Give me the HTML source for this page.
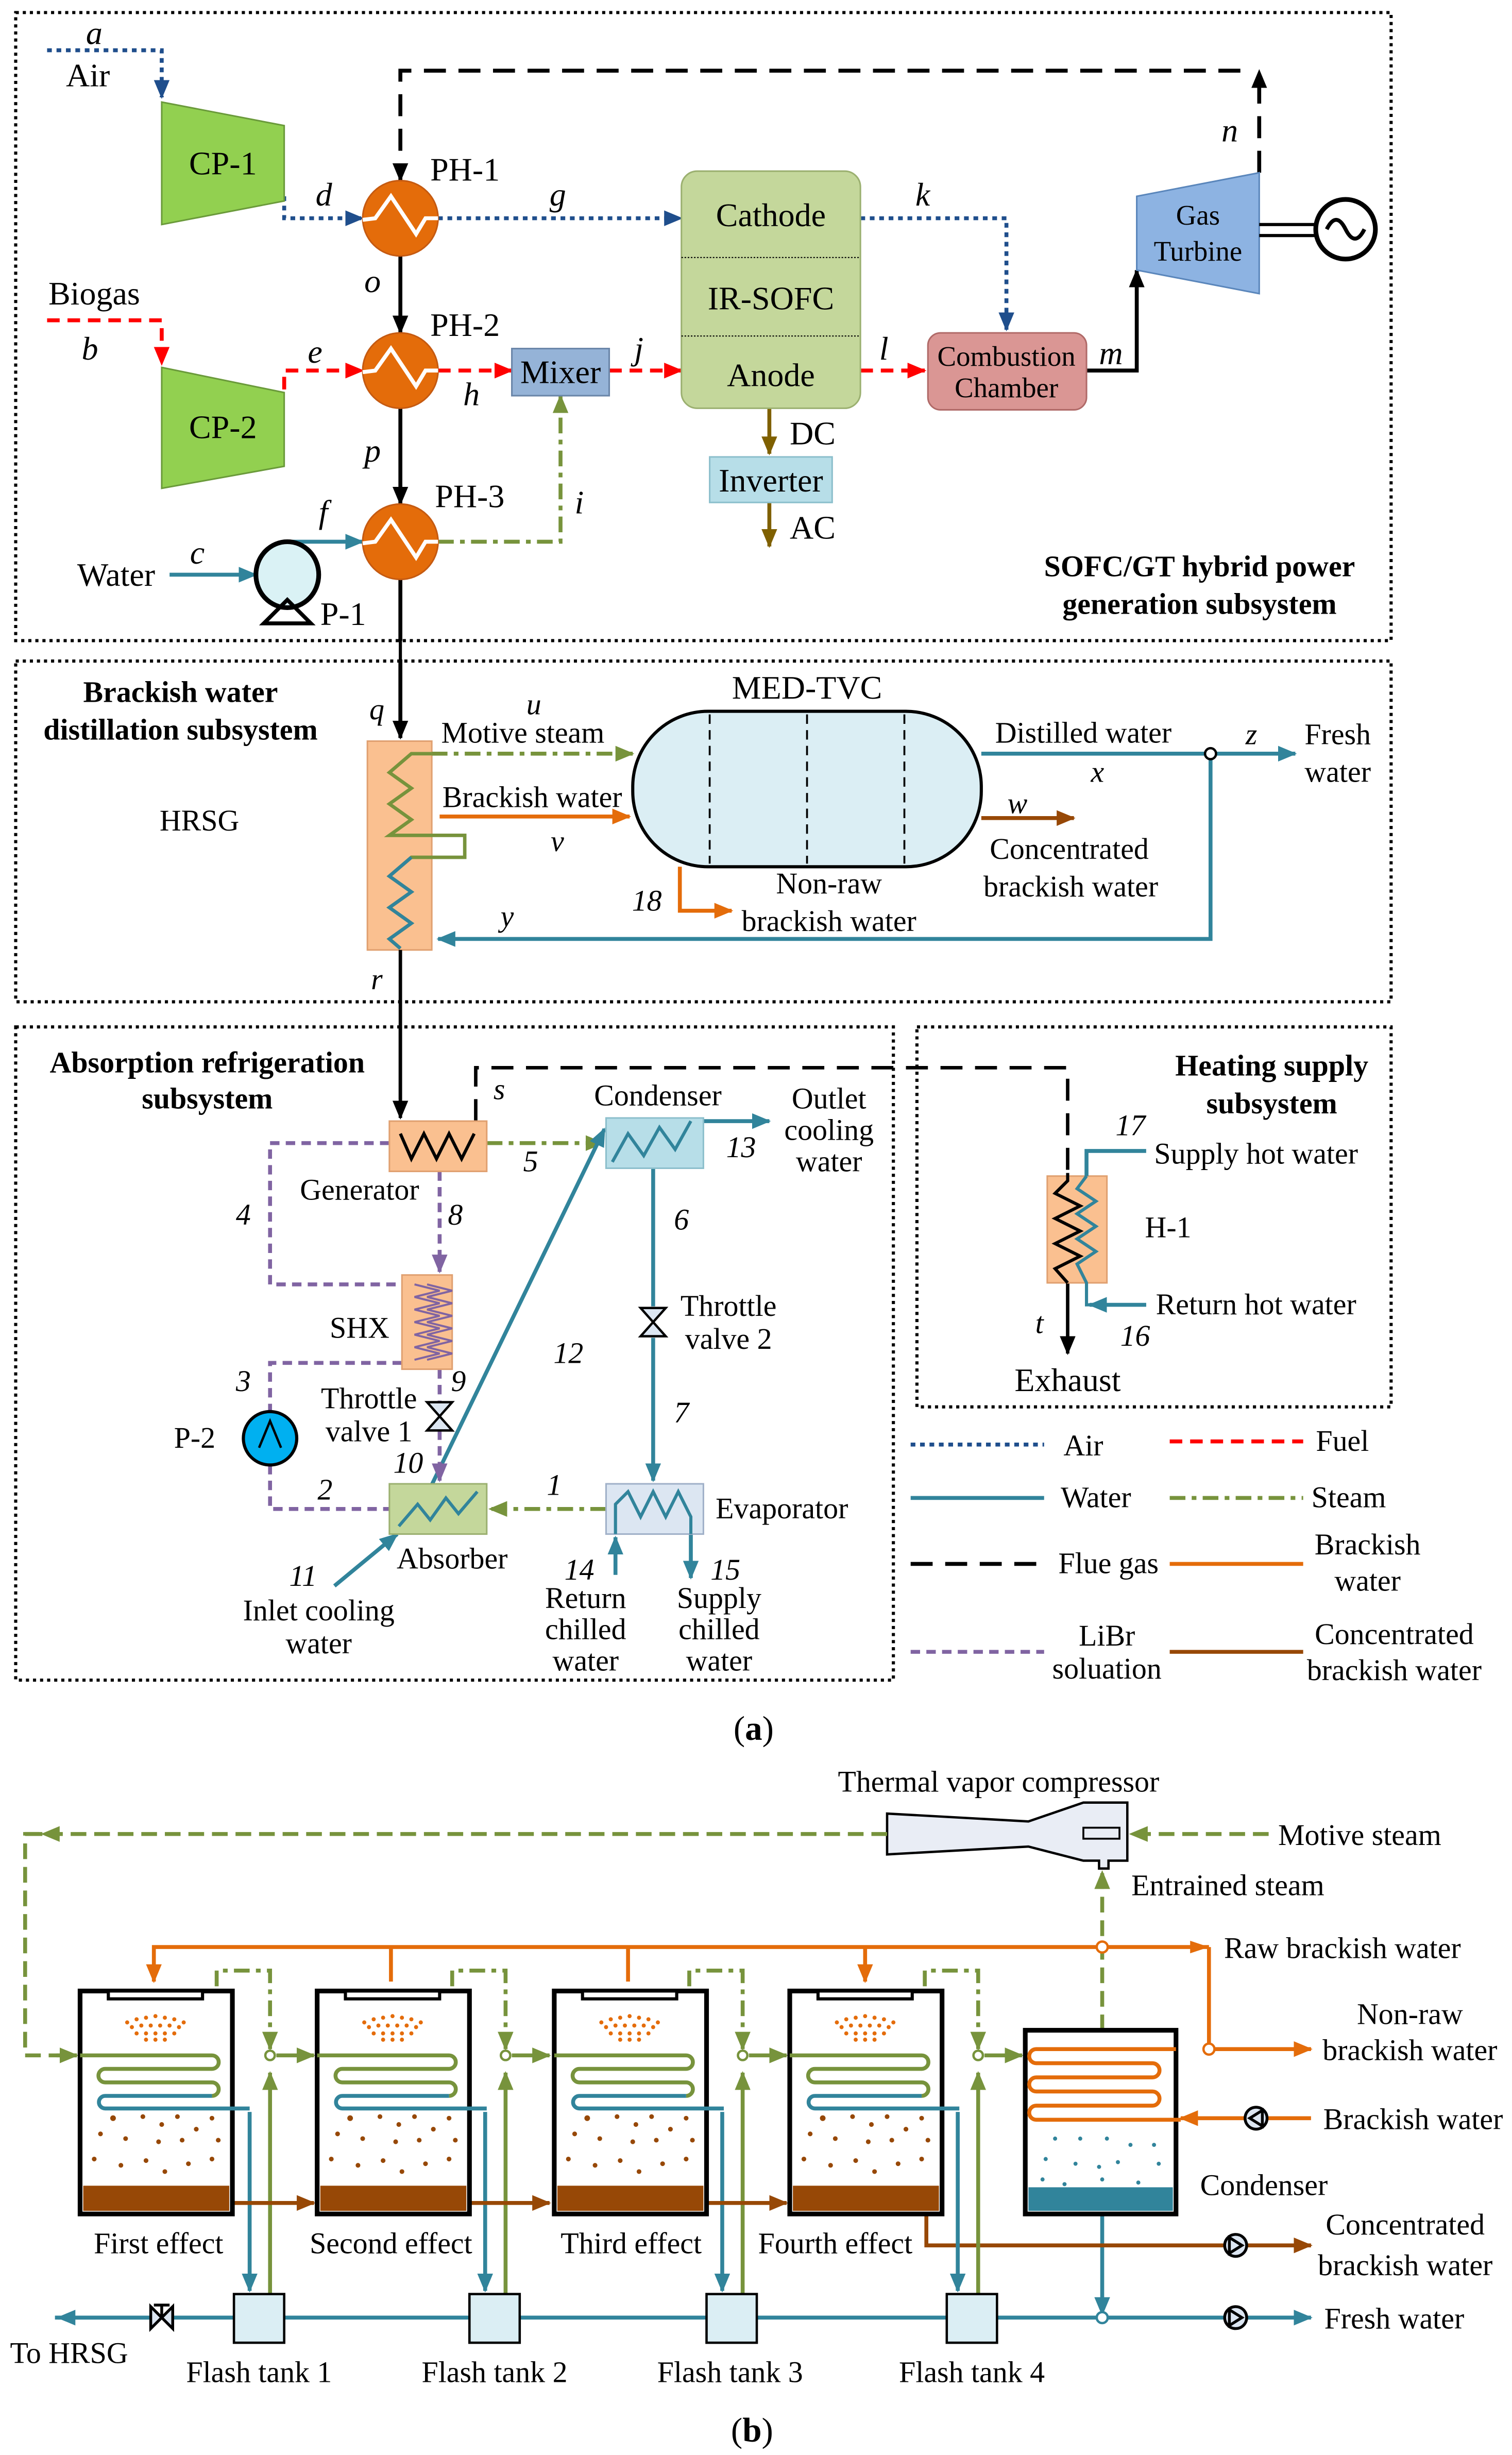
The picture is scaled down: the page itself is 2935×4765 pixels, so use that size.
<!DOCTYPE html>
<html><head><meta charset="utf-8"><style>html,body{margin:0;padding:0;background:#fff}svg{display:block}</style></head><body>
<svg xmlns="http://www.w3.org/2000/svg" width="2935" height="4765" viewBox="0 0 963 1563.5" preserveAspectRatio="none" font-family="Liberation Serif, serif" font-size="19">
<defs>
<marker id="ab" markerWidth="12" markerHeight="10" refX="11" refY="5" orient="auto" markerUnits="userSpaceOnUse"><path d="M0,0L12,5L0,10z" fill="#1f4e8c"/></marker>
<marker id="ar" markerWidth="12" markerHeight="10" refX="11" refY="5" orient="auto" markerUnits="userSpaceOnUse"><path d="M0,0L12,5L0,10z" fill="#ff0000"/></marker>
<marker id="ak" markerWidth="12" markerHeight="10" refX="11" refY="5" orient="auto" markerUnits="userSpaceOnUse"><path d="M0,0L12,5L0,10z" fill="#000"/></marker>
<marker id="at" markerWidth="12" markerHeight="10" refX="11" refY="5" orient="auto" markerUnits="userSpaceOnUse"><path d="M0,0L12,5L0,10z" fill="#31849b"/></marker>
<marker id="ag" markerWidth="12" markerHeight="10" refX="11" refY="5" orient="auto" markerUnits="userSpaceOnUse"><path d="M0,0L12,5L0,10z" fill="#77933c"/></marker>
<marker id="ao" markerWidth="12" markerHeight="10" refX="11" refY="5" orient="auto" markerUnits="userSpaceOnUse"><path d="M0,0L12,5L0,10z" fill="#e46c0a"/></marker>
<marker id="an" markerWidth="12" markerHeight="10" refX="11" refY="5" orient="auto" markerUnits="userSpaceOnUse"><path d="M0,0L12,5L0,10z" fill="#974806"/></marker>
<marker id="ad" markerWidth="12" markerHeight="10" refX="11" refY="5" orient="auto" markerUnits="userSpaceOnUse"><path d="M0,0L12,5L0,10z" fill="#7f6000"/></marker>
<marker id="ap" markerWidth="12" markerHeight="10" refX="11" refY="5" orient="auto" markerUnits="userSpaceOnUse"><path d="M0,0L12,5L0,10z" fill="#8064a2"/></marker>
<g id="hx"><ellipse cx="0" cy="0" rx="24" ry="24" fill="#e46c0a" stroke="#c55a11"/><path d="M-24,1 L-16,0 L-6,-14 L10,10 L16,0 L24,0" fill="none" stroke="#fff" stroke-width="2.5"/></g>
<g id="eff">
<rect x="0" y="0" width="97" height="142" fill="#fff" stroke="#000" stroke-width="3"/>
<rect x="18" y="0" width="60" height="5" fill="#fff" stroke="#000" stroke-width="2"/>
<rect x="2" y="124" width="93" height="16" fill="#974806"/>
<g fill="#e46c0a"><circle cx="30" cy="20" r="1.3"/><circle cx="36" cy="18" r="1.3"/><circle cx="42" cy="17" r="1.3"/><circle cx="48" cy="16" r="1.3"/><circle cx="54" cy="17" r="1.3"/><circle cx="60" cy="18" r="1.3"/><circle cx="66" cy="20" r="1.3"/><circle cx="33" cy="23" r="1.3"/><circle cx="39" cy="22" r="1.3"/><circle cx="45" cy="22" r="1.3"/><circle cx="51" cy="22" r="1.3"/><circle cx="57" cy="22" r="1.3"/><circle cx="63" cy="23" r="1.3"/><circle cx="36" cy="27" r="1.3"/><circle cx="42" cy="27" r="1.3"/><circle cx="48" cy="27" r="1.3"/><circle cx="54" cy="27" r="1.3"/><circle cx="60" cy="27" r="1.3"/><circle cx="42" cy="31" r="1.3"/><circle cx="48" cy="31" r="1.3"/><circle cx="54" cy="31" r="1.3"/></g>
<path d="M0,41 H84 a4.3,4.3 0 0 1 0,8.6 H16 a4.3,4.3 0 0 0 0,8.6 H84 a4.3,4.3 0 0 1 0,8.6" fill="none" stroke="#77933c" stroke-width="2.5"/>
<path d="M84,66.8 H16 a4,4 0 0 0 0,8 H108" fill="none" stroke="#31849b" stroke-width="2.5"/>
<g fill="#974806"><circle cx="21" cy="81" r="1.8"/><circle cx="40" cy="80" r="1.5"/><circle cx="62" cy="80" r="1.5"/><circle cx="84" cy="81" r="1.5"/><circle cx="52" cy="85" r="1.5"/><circle cx="74" cy="88" r="1.5"/><circle cx="13" cy="91" r="1.5"/><circle cx="29" cy="94" r="1.5"/><circle cx="50" cy="96" r="1.5"/><circle cx="65" cy="95" r="1.5"/><circle cx="88" cy="95" r="1.5"/><circle cx="9" cy="107" r="1.5"/><circle cx="26" cy="111" r="1.5"/><circle cx="42" cy="108" r="1.5"/><circle cx="69" cy="110" r="1.5"/><circle cx="84" cy="107" r="1.5"/><circle cx="54" cy="115" r="1.5"/></g>
</g>
</defs>
<g stroke="#000" stroke-width="2" stroke-dasharray="2,2.5" fill="none">
<rect x="10" y="8" width="876" height="400"/><rect x="10" y="421" width="876" height="217"/><rect x="10" y="654" width="559" height="416"/><rect x="584" y="654" width="302" height="242"/></g>

<!-- Part a lines -->
<g fill="none" stroke-width="2.5">
<path d="M255,395 V470" stroke="#000" stroke-width="2"/>
<path d="M30,32 H103 V62" stroke="#1f4e8c" stroke-dasharray="3,3" marker-end="url(#ab)"/>
<path d="M181,125 V139 H231" stroke="#1f4e8c" stroke-dasharray="3,3" marker-end="url(#ab)"/>
<path d="M279,139 H434" stroke="#1f4e8c" stroke-dasharray="3,3" marker-end="url(#ab)"/>
<path d="M548,139 H641 V210" stroke="#1f4e8c" stroke-dasharray="3,3" marker-end="url(#ab)"/>
<path d="M802,110 V45" stroke="#000" stroke-dasharray="14,8" marker-end="url(#ak)"/>
<path d="M790,45 H255 V115" stroke="#000" stroke-dasharray="14,8" marker-end="url(#ak)"/>
<path d="M255,163 V212" stroke="#000" marker-end="url(#ak)"/>
<path d="M255,260 V321" stroke="#000" marker-end="url(#ak)"/>
<path d="M30,204 H103 V232" stroke="#ff0000" stroke-dasharray="8,5" marker-end="url(#ar)"/>
<path d="M181,248 V236 H231" stroke="#ff0000" stroke-dasharray="8,5" marker-end="url(#ar)"/>
<path d="M279,236 H326" stroke="#ff0000" stroke-dasharray="8,5" marker-end="url(#ar)"/>
<path d="M388,236 H434" stroke="#ff0000" stroke-dasharray="8,5" marker-end="url(#ar)"/>
<path d="M548,236 H589" stroke="#ff0000" stroke-dasharray="8,5" marker-end="url(#ar)"/>
<path d="M692,236 H724 V172" stroke="#000" marker-end="url(#ak)"/>
<path d="M108,366 H163" stroke="#31849b" marker-end="url(#at)"/>
<path d="M183,346 V345 H231" stroke="#31849b" marker-end="url(#at)"/>
<path d="M279,345 H357 V252" stroke="#77933c" stroke-dasharray="10,4,3,4" marker-end="url(#ag)"/>
<path d="M490,260 V289" stroke="#7f6000" marker-end="url(#ad)"/>
<path d="M490,320 V348" stroke="#7f6000" marker-end="url(#ad)"/>
<path d="M255,369 V408" stroke="#000"/>
</g>
<polygon points="103,65 181,80 181,128 103,143" fill="#92d050" stroke="#6a9a3a"/>
<polygon points="103,234 181,250 181,297 103,311" fill="#92d050" stroke="#6a9a3a"/>
<text x="142" y="111" text-anchor="middle" font-size="21">CP-1</text>
<text x="142" y="279" text-anchor="middle" font-size="21">CP-2</text>
<use href="#hx" x="255" y="139"/><use href="#hx" x="255" y="236"/><use href="#hx" x="255" y="345"/>
<rect x="434" y="109" width="114" height="151" rx="10" fill="#c4d79b" stroke="#9bb070"/>
<path d="M434,164 H548 M434,214 H548" stroke="#000" stroke-width="0.7" stroke-dasharray="1,1"/>
<text x="491" y="144" text-anchor="middle" font-size="21">Cathode</text>
<text x="491" y="197" text-anchor="middle" font-size="21">IR-SOFC</text>
<text x="491" y="246" text-anchor="middle" font-size="21">Anode</text>
<rect x="326" y="222" width="62" height="30" fill="#95b3d7" stroke="#6a85a8"/>
<text x="357" y="244" text-anchor="middle" font-size="21">Mixer</text>
<rect x="591" y="212" width="101" height="49" rx="8" fill="#da9694" stroke="#b06a68"/>
<text x="641" y="233" text-anchor="middle" font-size="18">Combustion</text>
<text x="641" y="253" text-anchor="middle" font-size="18">Chamber</text>
<rect x="452" y="291" width="78" height="29" fill="#b7dee8" stroke="#8cbfcc"/>
<text x="491" y="313" text-anchor="middle" font-size="21">Inverter</text>
<polygon points="724,125 802,110 802,187 724,172" fill="#8db3e2" stroke="#5a86bb"/>
<text x="763" y="143" text-anchor="middle" font-size="18">Gas</text>
<text x="763" y="166" text-anchor="middle" font-size="18">Turbine</text>
<path d="M802,143 H840 M802,150 H840" stroke="#000" stroke-width="2"/>
<circle cx="857" cy="146" r="19" fill="#fff" stroke="#000" stroke-width="3"/>
<path d="M845,146 q6,-12 12,0 t12,0" fill="none" stroke="#000" stroke-width="2.5"/>
<ellipse cx="183" cy="366" rx="20" ry="21" fill="#daf2f5" stroke="#000" stroke-width="3"/>
<path d="M168,397 L183,382 L198,397 Z" fill="none" stroke="#000" stroke-width="2.5"/>
<g font-size="21">
<text x="60" y="28" font-style="italic" text-anchor="middle">a</text><text x="56" y="55" text-anchor="middle">Air</text>
<text x="201" y="131" font-style="italic">d</text><text x="350" y="131" font-style="italic">g</text><text x="583" y="131" font-style="italic">k</text>
<text x="274" y="115">PH-1</text><text x="274" y="214">PH-2</text><text x="277" y="323">PH-3</text>
<text x="232" y="186" font-style="italic">o</text><text x="232" y="294" font-style="italic">p</text>
<text x="60" y="194" text-anchor="middle">Biogas</text><text x="52" y="229" font-style="italic">b</text>
<text x="196" y="231" font-style="italic">e</text><text x="295" y="258" font-style="italic">h</text><text x="404" y="229" font-style="italic">j</text><text x="560" y="229" font-style="italic">l</text><text x="700" y="232" font-style="italic">m</text><text x="778" y="90" font-style="italic">n</text>
<text x="203" y="333" font-style="italic">f</text><text x="366" y="327" font-style="italic">i</text><text x="121" y="359" font-style="italic">c</text>
<text x="74" y="373" text-anchor="middle">Water</text><text x="204" y="398">P-1</text>
<text x="503" y="283">DC</text><text x="503" y="343">AC</text>
</g>
<text x="764" y="367" text-anchor="middle" font-weight="bold" font-size="19">SOFC/GT hybrid power</text>
<text x="764" y="391" text-anchor="middle" font-weight="bold" font-size="19">generation subsystem</text>

<!-- Box 2 -->
<text x="115" y="447" text-anchor="middle" font-weight="bold" font-size="19">Brackish water</text>
<text x="115" y="471" text-anchor="middle" font-weight="bold" font-size="19">distillation subsystem</text>
<text x="127" y="529" text-anchor="middle">HRSG</text>
<path d="M255,420 V470" stroke="#000" stroke-width="2.5" fill="none" marker-end="url(#ak)"/>
<rect x="234" y="472" width="41" height="133" fill="#fac090" stroke="#e0a070"/>
<path d="M275,480 H262 L248,492 L262,502 L248,512 L262,522 L248,532 H296 V546 H262 L248,558 L262,568 L248,578 L262,588 L248,598 L255,604" fill="none" stroke="#77933c" stroke-width="2.2"/>
<path d="M262,546 L248,558 L262,568 L248,578 L262,588 L248,598 L255,604" fill="none" stroke="#31849b" stroke-width="2.2"/>
<path d="M255,605 V700" stroke="#000" stroke-width="2.2" fill="none"/>
<path d="M275,480 H403" stroke="#77933c" stroke-width="2.5" stroke-dasharray="10,4,3,4" fill="none" marker-end="url(#ag)"/>
<path d="M280,520 H401" stroke="#e46c0a" stroke-width="2.5" fill="none" marker-end="url(#ao)"/>
<rect x="403" y="453" width="222" height="99" rx="48" fill="#dbeef4" stroke="#000" stroke-width="2"/>
<path d="M452,455 V550 M514,455 V550 M576,455 V550" stroke="#000" stroke-width="1.2" stroke-dasharray="6,4"/>
<path d="M625,480 H825" stroke="#31849b" stroke-width="2.5" fill="none" marker-end="url(#at)"/>
<path d="M771,480 V598 H279" stroke="#31849b" stroke-width="2.5" fill="none" marker-end="url(#at)"/>
<circle cx="771" cy="480" r="3.5" fill="#fff" stroke="#000" stroke-width="1.5"/>
<path d="M625,521 H684" stroke="#974806" stroke-width="2.5" fill="none" marker-end="url(#an)"/>
<path d="M433,552 V580 H466" stroke="#e46c0a" stroke-width="2.5" fill="none" marker-end="url(#ao)"/>
<g font-size="19">
<text x="514" y="445" text-anchor="middle" font-size="21">MED-TVC</text>
<text x="340" y="455" font-style="italic" text-anchor="middle">u</text><text x="333" y="473" text-anchor="middle">Motive steam</text>
<text x="339" y="514" text-anchor="middle">Brackish water</text><text x="355" y="542" font-style="italic" text-anchor="middle">v</text>
<text x="690" y="473" text-anchor="middle">Distilled water</text><text x="699" y="498" font-style="italic" text-anchor="middle">x</text>
<text x="797" y="474" font-style="italic" text-anchor="middle">z</text><text x="852" y="474" text-anchor="middle">Fresh</text><text x="852" y="498" text-anchor="middle">water</text>
<text x="648" y="518" font-style="italic" text-anchor="middle">w</text><text x="681" y="547" text-anchor="middle">Concentrated</text><text x="682" y="571" text-anchor="middle">brackish water</text>
<text x="412" y="580" font-style="italic" text-anchor="middle">18</text><text x="528" y="569" text-anchor="middle">Non-raw</text><text x="528" y="593" text-anchor="middle">brackish water</text>
<text x="323" y="590" font-style="italic" text-anchor="middle">y</text><text x="240" y="630" font-style="italic" text-anchor="middle">r</text><text x="240" y="458" font-style="italic" text-anchor="middle">q</text>
</g>

<!-- Box 3 -->
<text x="132" y="683" text-anchor="middle" font-weight="bold" font-size="19">Absorption refrigeration</text>
<text x="132" y="706" text-anchor="middle" font-weight="bold" font-size="19">subsystem</text>
<path d="M255,654 V712" stroke="#000" stroke-width="2.2" fill="none" marker-end="url(#ak)"/>
<path d="M303,714 V680 H680 V747" stroke="#000" stroke-width="2.2" stroke-dasharray="14,8" fill="none"/>
<path d="M680,817 V862" stroke="#000" stroke-width="2.2" fill="none" marker-end="url(#ak)"/>
<g fill="none" stroke-width="2.5">
<path d="M310,728 H384" stroke="#77933c" stroke-dasharray="10,4,3,4" marker-end="url(#ag)"/>
<path d="M416,714 H490" stroke="#31849b" marker-end="url(#at)"/>
<path d="M416,744 V832" stroke="#31849b"/><path d="M416,852 V943" stroke="#31849b" marker-end="url(#at)"/>
<path d="M386,961 H312" stroke="#77933c" stroke-dasharray="10,4,3,4" marker-end="url(#ag)"/>
<path d="M392,1003 V979" stroke="#31849b" marker-end="url(#at)"/>
<path d="M440,977 V1005" stroke="#31849b" marker-end="url(#at)"/>
<path d="M268,960 L385,719" stroke="#31849b" marker-end="url(#at)"/>
<path d="M213,1010 L253,977" stroke="#31849b" marker-end="url(#at)"/>
<path d="M248,728 H172 V818 H256" stroke="#8064a2" stroke-dasharray="6,4"/>
<path d="M280,746 V810" stroke="#8064a2" stroke-dasharray="6,4" marker-end="url(#ap)"/>
<path d="M280,872 V893 M280,911 V943" stroke="#8064a2" stroke-dasharray="6,4" marker-end="url(#ap)"/>
<path d="M256,868 H172 V899 M172,933 V961 H248" stroke="#8064a2" stroke-dasharray="6,4"/>
</g>
<rect x="248" y="714" width="62" height="32" fill="#fac090" stroke="#e0a070"/>
<path d="M255,722 L262,738 L270,722 L278,738 L286,722 L294,738 L302,722" fill="none" stroke="#000" stroke-width="2"/>
<rect x="386" y="712" width="62" height="32" fill="#b7dee8" stroke="#8cbfcc"/>
<path d="M390,740 L400,722 L410,736 L420,718 L430,732 L440,714" fill="none" stroke="#31849b" stroke-width="2"/>
<rect x="386" y="945" width="62" height="32" fill="#dce6f2" stroke="#a0b0c8"/>
<path d="M392,977 V958 L400,950 L408,966 L416,950 L424,966 L432,950 L440,966 V977" fill="none" stroke="#31849b" stroke-width="2"/>
<rect x="248" y="945" width="62" height="32" fill="#c4d79b" stroke="#9bb070"/>
<path d="M254,972 L266,958 L274,968 L284,954 L292,964 L304,950" fill="none" stroke="#31849b" stroke-width="2"/>
<rect x="256" y="812" width="32" height="60" fill="#fac090" stroke="#e0a070"/>
<path d="M264,818 L280,822 L264,826 L280,830 L264,834 L280,838 L264,842 L280,846 L264,850 L280,854 L264,858 L280,862 L264,866 M272,818 L288,822 L272,826 L288,830 L272,834 L288,838 L272,842 L288,846 L272,850 L288,854 L272,858 L288,862 L272,866" fill="none" stroke="#8064a2" stroke-width="1.3"/>
<path d="M272,893 L288,893 L272,911 L288,911 Z" fill="#dce6f2" stroke="#000" stroke-width="1.5"/>
<path d="M408,833 L424,833 L408,851 L424,851 Z" fill="#dce6f2" stroke="#000" stroke-width="1.5"/>
<circle cx="172" cy="916" r="17" fill="#00b0f0" stroke="#000" stroke-width="2"/>
<path d="M165,922 L172,905 L179,922" fill="none" stroke="#000" stroke-width="1.5"/>
<g font-size="19">
<text x="318" y="700" font-style="italic" text-anchor="middle">s</text><text x="229" y="764" text-anchor="middle">Generator</text>
<text x="338" y="746" font-style="italic" text-anchor="middle">5</text><text x="419" y="704" text-anchor="middle">Condenser</text>
<text x="472" y="737" font-style="italic" text-anchor="middle">13</text>
<text x="528" y="706" text-anchor="middle">Outlet</text><text x="528" y="726" text-anchor="middle">cooling</text><text x="528" y="746" text-anchor="middle">water</text>
<text x="434" y="783" font-style="italic" text-anchor="middle">6</text><text x="434" y="906" font-style="italic" text-anchor="middle">7</text>
<text x="464" y="838" text-anchor="middle">Throttle</text><text x="464" y="859" text-anchor="middle">valve 2</text>
<text x="498" y="967" text-anchor="middle">Evaporator</text><text x="353" y="952" font-style="italic" text-anchor="middle">1</text>
<text x="369" y="1006" font-style="italic" text-anchor="middle">14</text><text x="462" y="1006" font-style="italic" text-anchor="middle">15</text>
<text x="373" y="1024" text-anchor="middle">Return</text><text x="373" y="1044" text-anchor="middle">chilled</text><text x="373" y="1064" text-anchor="middle">water</text>
<text x="458" y="1024" text-anchor="middle">Supply</text><text x="458" y="1044" text-anchor="middle">chilled</text><text x="458" y="1064" text-anchor="middle">water</text>
<text x="288" y="999" text-anchor="middle">Absorber</text><text x="362" y="868" font-style="italic" text-anchor="middle">12</text>
<text x="193" y="1010" font-style="italic" text-anchor="middle">11</text><text x="203" y="1032" text-anchor="middle">Inlet cooling</text><text x="203" y="1053" text-anchor="middle">water</text>
<text x="155" y="780" font-style="italic" text-anchor="middle">4</text><text x="290" y="780" font-style="italic" text-anchor="middle">8</text>
<text x="229" y="852" text-anchor="middle">SHX</text><text x="292" y="886" font-style="italic" text-anchor="middle">9</text><text x="260" y="938" font-style="italic" text-anchor="middle">10</text>
<text x="235" y="897" text-anchor="middle">Throttle</text><text x="235" y="918" text-anchor="middle">valve 1</text>
<text x="155" y="886" font-style="italic" text-anchor="middle">3</text><text x="207" y="955" font-style="italic" text-anchor="middle">2</text><text x="124" y="922" text-anchor="middle">P-2</text>
</g>

<!-- Box 4 -->
<text x="810" y="685" text-anchor="middle" font-weight="bold" font-size="19">Heating supply</text>
<text x="810" y="709" text-anchor="middle" font-weight="bold" font-size="19">subsystem</text>
<rect x="667" y="749" width="38" height="68" fill="#fac090" stroke="#e0a070"/>
<path d="M680,747 V752 L672,760 L688,768 L672,776 L688,784 L672,792 L688,800 L672,808 L680,817" fill="none" stroke="#000" stroke-width="2"/>
<path d="M692,749 L686,757 L698,765 L686,773 L698,781 L686,789 L698,797 L686,805 L692,817 V831 H730" fill="none" stroke="#31849b" stroke-width="2"/>
<path d="M730,831 H694" stroke="#31849b" stroke-width="2.5" fill="none" marker-end="url(#at)"/>
<path d="M692,749 V733 H730" stroke="#31849b" stroke-width="2.5" fill="none"/>
<g font-size="19">
<text x="720" y="723" font-style="italic" text-anchor="middle">17</text><text x="800" y="741" text-anchor="middle">Supply hot water</text>
<text x="744" y="788" text-anchor="middle">H-1</text><text x="800" y="837" text-anchor="middle">Return hot water</text>
<text x="723" y="857" font-style="italic" text-anchor="middle">16</text><text x="662" y="849" font-style="italic" text-anchor="middle">t</text>
<text x="680" y="886" text-anchor="middle" font-size="21">Exhaust</text>
</g>

<!-- Legend -->
<g fill="none" stroke-width="2.5">
<path d="M580,920 H665" stroke="#1f4e8c" stroke-dasharray="3,3"/>
<path d="M745,918 H830" stroke="#ff0000" stroke-dasharray="8,5"/>
<path d="M580,954 H665" stroke="#31849b"/>
<path d="M745,954 H830" stroke="#77933c" stroke-dasharray="10,4,3,4"/>
<path d="M580,996 H665" stroke="#000" stroke-dasharray="14,8"/>
<path d="M745,996 H830" stroke="#e46c0a"/>
<path d="M580,1052 H665" stroke="#8064a2" stroke-dasharray="6,4"/>
<path d="M745,1052 H830" stroke="#974806"/>
</g>
<g font-size="19">
<text x="690" y="927" text-anchor="middle">Air</text><text x="855" y="924" text-anchor="middle">Fuel</text>
<text x="698" y="960" text-anchor="middle">Water</text><text x="859" y="960" text-anchor="middle">Steam</text>
<text x="706" y="1002" text-anchor="middle">Flue gas</text><text x="871" y="990" text-anchor="middle">Brackish</text><text x="871" y="1013" text-anchor="middle">water</text>
<text x="705" y="1048" text-anchor="middle">LiBr</text><text x="705" y="1069" text-anchor="middle">soluation</text>
<text x="888" y="1047" text-anchor="middle">Concentrated</text><text x="888" y="1070" text-anchor="middle">brackish water</text>
</g>
<text x="480" y="1108" text-anchor="middle" font-size="22">(<tspan font-weight="bold">a</tspan>)</text>

<!-- Part b -->
<text x="636" y="1141" text-anchor="middle" font-size="19">Thermal vapor compressor</text>
<polygon points="565,1155 655,1160 690,1148 718,1148 718,1185 706,1185 706,1190 700,1190 700,1185 690,1185 655,1176 565,1181" fill="#e9edf5" stroke="#000" stroke-width="1.5"/>
<rect x="690" y="1164" width="23" height="7" fill="#e9edf5" stroke="#000" stroke-width="1.2"/>
<g fill="none" stroke-width="2.5">
<path d="M565,1168 H16 V1309 H49" stroke="#77933c" stroke-dasharray="10,5"/>
<path d="M36,1309 H49" stroke="#77933c" marker-end="url(#ag)"/>
<path d="M27,1168 H16" stroke="#77933c" marker-start="url(#ag)"/>
<path d="M808,1168 H720" stroke="#77933c" stroke-dasharray="10,5" marker-end="url(#ag)"/>
<path d="M702,1293 V1192" stroke="#77933c" stroke-dasharray="10,5" marker-end="url(#ag)"/>
<path d="M770,1240 V1305 H835" stroke="#e46c0a" marker-end="url(#ao)"/>
<path d="M770,1240 H98 V1262" stroke="#e46c0a" marker-end="url(#ao)"/>
<path d="M249,1240 V1262 M400,1240 V1262 M551,1240 V1262" stroke="#e46c0a" marker-end="url(#ao)"/>
<path d="M835,1349 H752" stroke="#e46c0a" marker-end="url(#ao)"/>
<path d="M35,1476 H835" stroke="#31849b" marker-end="url(#at)"/>
<path d="M103,1476 H37" stroke="#31849b" marker-end="url(#at)"/>
<path d="M702,1410 V1474" stroke="#31849b" marker-end="url(#at)"/>
<path d="M590,1410 V1430 H835" stroke="#974806" marker-end="url(#an)"/>
</g>
<path d="M758,1236 L770,1240 L758,1244Z" fill="#e46c0a"/>
<g id="stage">
<path d="M138,1265 V1255 H172 V1300" fill="none" stroke="#77933c" stroke-width="2.5" stroke-dasharray="10,4,3,4"/>
<path d="M172,1461 V1320" fill="none" stroke="#77933c" stroke-width="2.5" marker-end="url(#ag)"/>
<path d="M172,1296 V1305" stroke="#77933c" stroke-width="2.5" marker-end="url(#ag)"/>
<path d="M176,1309 H200" stroke="#77933c" stroke-width="2.5" marker-end="url(#ag)"/>
<circle cx="172" cy="1309" r="3" fill="#fff" stroke="#77933c" stroke-width="1.5"/>
<path d="M159,1345 V1459" fill="none" stroke="#31849b" stroke-width="2.5" marker-end="url(#at)"/>
<path d="M148,1403 H200" stroke="#974806" stroke-width="2.5" marker-end="url(#an)"/>
<rect x="149" y="1461" width="32" height="31" fill="#dbeef4" stroke="#000" stroke-width="1.5"/>
</g>
<use href="#stage" x="150"/><use href="#stage" x="301"/>
<path d="M589,1265 V1255 H623 V1300" fill="none" stroke="#77933c" stroke-width="2.5" stroke-dasharray="10,4,3,4"/>
<path d="M623,1461 V1320" fill="none" stroke="#77933c" stroke-width="2.5" marker-end="url(#ag)"/>
<path d="M623,1296 V1305" stroke="#77933c" stroke-width="2.5" marker-end="url(#ag)"/>
<path d="M627,1309 H651" stroke="#77933c" stroke-width="2.5" marker-end="url(#ag)"/>
<circle cx="623" cy="1309" r="3" fill="#fff" stroke="#77933c" stroke-width="1.5"/>
<path d="M610,1345 V1459" fill="none" stroke="#31849b" stroke-width="2.5" marker-end="url(#at)"/>
<rect x="603" y="1461" width="32" height="31" fill="#dbeef4" stroke="#000" stroke-width="1.5"/>
<use href="#eff" x="51" y="1268"/><use href="#eff" x="202" y="1268"/><use href="#eff" x="353" y="1268"/><use href="#eff" x="503" y="1268"/>
<rect x="653" y="1293" width="96" height="117" fill="#fff" stroke="#000" stroke-width="3"/>
<rect x="655" y="1393" width="92" height="15" fill="#31849b"/>
<path d="M749,1305 H660 a4.5,4.5 0 0 0 0,9 H734 a4.5,4.5 0 0 1 0,9 H660 a4.5,4.5 0 0 0 0,9 H734 a4.5,4.5 0 0 1 0,9 H660 a4.5,4.5 0 0 0 0,9 H752" fill="none" stroke="#e46c0a" stroke-width="2.5"/>
<g fill="#31849b"><circle cx="672" cy="1362" r="1.3"/><circle cx="688" cy="1362" r="1.3"/><circle cx="705" cy="1362" r="1.3"/><circle cx="720" cy="1366" r="1.3"/><circle cx="735" cy="1366" r="1.3"/><circle cx="666" cy="1375" r="1.3"/><circle cx="685" cy="1378" r="1.3"/><circle cx="700" cy="1380" r="1.3"/><circle cx="712" cy="1377" r="1.3"/><circle cx="738" cy="1378" r="1.3"/><circle cx="664" cy="1388" r="1.3"/><circle cx="678" cy="1391" r="1.3"/><circle cx="702" cy="1388" r="1.3"/><circle cx="725" cy="1390" r="1.3"/></g>
<circle cx="770" cy="1305" r="3.5" fill="#fff" stroke="#e46c0a" stroke-width="1.5"/>
<circle cx="702" cy="1476" r="3.5" fill="#fff" stroke="#31849b" stroke-width="1.5"/>
<circle cx="702" cy="1240" r="3.5" fill="#fff" stroke="#e46c0a" stroke-width="1.5"/>
<g stroke="#000" stroke-width="1.8" fill="#dce6f2">
<circle cx="800" cy="1349" r="7"/><path d="M804,1344 L796,1349 L804,1354Z"/>
<circle cx="787" cy="1430" r="7"/><path d="M783,1425 L791,1430 L783,1435Z"/>
<circle cx="787" cy="1476" r="7"/><path d="M783,1471 L791,1476 L783,1481Z"/>
<path d="M96,1469 L110,1483 L110,1469 L96,1483 Z"/><path d="M103,1476 V1468 M98,1468 H108" fill="none"/>
</g>
<g font-size="19">
<text x="866" y="1175" text-anchor="middle">Motive steam</text><text x="782" y="1207" text-anchor="middle">Entrained steam</text>
<text x="855" y="1247" text-anchor="middle">Raw brackish water</text>
<text x="898" y="1289" text-anchor="middle">Non-raw</text><text x="898" y="1312" text-anchor="middle">brackish water</text>
<text x="900" y="1356" text-anchor="middle">Brackish water</text><text x="805" y="1398" text-anchor="middle">Condenser</text>
<text x="895" y="1423" text-anchor="middle">Concentrated</text><text x="895" y="1449" text-anchor="middle">brackish water</text>
<text x="888" y="1483" text-anchor="middle">Fresh water</text>
<text x="101" y="1435" text-anchor="middle">First effect</text><text x="249" y="1435" text-anchor="middle">Second effect</text>
<text x="402" y="1435" text-anchor="middle">Third effect</text><text x="532" y="1435" text-anchor="middle">Fourth effect</text>
<text x="44" y="1505" text-anchor="middle">To HRSG</text>
<text x="165" y="1517" text-anchor="middle">Flash tank 1</text><text x="315" y="1517" text-anchor="middle">Flash tank 2</text>
<text x="465" y="1517" text-anchor="middle">Flash tank 3</text><text x="619" y="1517" text-anchor="middle">Flash tank 4</text>
</g>
<text x="479" y="1555" text-anchor="middle" font-size="22">(<tspan font-weight="bold">b</tspan>)</text>
</svg>
</body></html>
